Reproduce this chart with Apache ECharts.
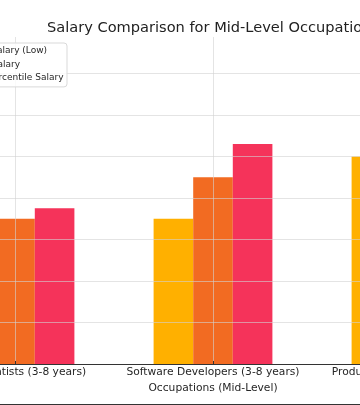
<!DOCTYPE html>
<html>
<head>
<meta charset="utf-8">
<script src="https://cdn.jsdelivr.net/npm/echarts@6/dist/echarts.min.js"></script>
<style>
  html, body { margin: 0; padding: 0; width: 360px; height: 405px; overflow: hidden; background: #fff; }
  #frame { position: relative; width: 360px; height: 405px; overflow: hidden; }
  #chart { position: absolute; left: -300px; top: 0; width: 1026px; height: 405px; }
  #edge { position: absolute; left: 0; right: 0; bottom: 0; height: 1px; background: #333; }
</style>
</head>
<body>
<div id="frame"><div id="chart"></div><div id="edge"></div></div>
<script>
const titleText = 'Salary Comparison for Mid-Level Occupations';
const xAxisName = 'Occupations (Mid-Level)';
const categories = ['', 'Data Scientists (3-8 years)', 'Software Developers (3-8 years)', 'Product Managers (3-8 years)', ''];
const seriesNames = ['Entry Salary (Low)', 'Mean Salary', '90th Percentile Salary'];
const lowSalary = [null, 60000, 70000, 100000, null];
const medianSalary = [null, 70000, 90000, 125000, null];
const p90Salary = [null, 75000, 106000, 150000, null];
const yTicks = [0, 20000, 40000, 60000, 80000, 100000, 120000, 140000];
const yMax = 157500;
const colors = ['#FFB000', '#F26B22', '#F5335A'];

const chart = echarts.init(document.getElementById('chart'), null, { renderer: 'canvas' });
const font = 'DejaVu Sans';
const values = [lowSalary, medianSalary, p90Salary];
chart.setOption({
  animation: false,
  backgroundColor: '#ffffff',
  title: {
    text: titleText,
    left: 'center',
    top: 16,
    textStyle: { fontFamily: font, fontSize: 14.6, fontWeight: 'normal', color: '#222' }
  },
  legend: {
    orient: 'vertical',
    right: 659,
    top: 43,
    itemWidth: 18,
    itemHeight: 6,
    itemGap: 0,
    padding: [1.5, 3.5, 2.5, 5],
    backgroundColor: 'rgba(255,255,255,0.8)',
    borderColor: '#d9d9d9',
    borderWidth: 1,
    borderRadius: 3,
    icon: 'rect',
    textStyle: { fontFamily: font, fontSize: 9, color: '#262626', lineHeight: 13.3 },
    data: seriesNames
  },
  grid: { left: 117, right: 117, top: 37, bottom: 41, containLabel: false },
  xAxis: {
    type: 'category',
    data: categories,
    boundaryGap: false,
    z: 3,
    name: xAxisName,
    nameLocation: 'middle',
    nameGap: 19,
    nameTextStyle: { fontFamily: font, fontSize: 10.7, color: '#262626' },
    axisLine: { show: true, lineStyle: { color: '#333', width: 1 } },
    axisTick: { show: true, inside: true, length: 3, lineStyle: { color: '#333' } },
    axisLabel: { fontFamily: font, fontSize: 10.7, color: '#262626', margin: 3, interval: 0 },
    splitLine: { show: true, lineStyle: { color: 'rgba(210,210,210,0.6)', width: 1 } }
  },
  yAxis: {
    type: 'value',
    min: yTicks[0],
    max: yMax,
    interval: yTicks[1] - yTicks[0],
    z: 3,
    axisLine: { show: false },
    axisTick: { show: false },
    axisLabel: { fontFamily: font, fontSize: 10.7, color: '#262626' },
    splitLine: { show: true, showMaxLine: false, showMinLine: false, lineStyle: { color: 'rgba(210,210,210,0.6)', width: 1 } }
  },
  series: seriesNames.map((name, i) => ({
    name: name,
    type: 'bar',
    data: values[i],
    barWidth: 39.6,
    barGap: '0%',
    itemStyle: { color: colors[i] },
    z: 2
  }))
});
</script>
</body>
</html>
